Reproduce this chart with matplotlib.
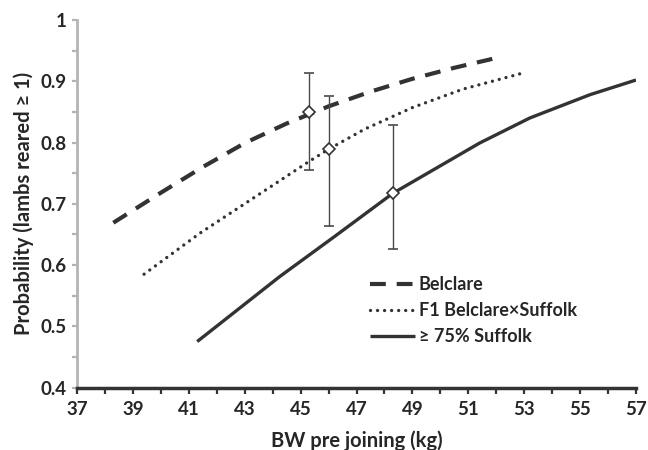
import matplotlib.pyplot as plt
from matplotlib.lines import Line2D
from matplotlib.ticker import MultipleLocator

plt.rcParams['font.family'] = ['Lato', 'DejaVu Sans']
plt.rcParams['font.weight'] = 'bold'

# curves
bw_belclare = [38.3, 40.0, 41.5, 43.0, 44.5, 46.0, 47.5, 49.0, 50.5, 52.0]
p_belclare = [0.669, 0.718, 0.760, 0.799, 0.831, 0.859, 0.883, 0.904, 0.922, 0.938]

bw_f1 = [39.4, 41.4, 43.2, 45.3, 46.0, 47.3, 49.0, 50.8, 53.0]
p_f1 = [0.585, 0.652, 0.706, 0.769, 0.789, 0.822, 0.857, 0.887, 0.914]

bw_suffolk = [41.3, 44.25, 46.2, 48.3, 51.4, 53.2, 55.35, 57.0]
p_suffolk = [0.475, 0.581, 0.646, 0.717, 0.799, 0.840, 0.878, 0.902]

# mean points with error bars
pt_x = [45.3, 46.0, 48.3]
pt_y = [0.850, 0.789, 0.717]
pt_lo = [0.755, 0.664, 0.626]
pt_hi = [0.913, 0.876, 0.829]

x_ticks = list(range(37, 58, 2))
y_ticks = [0.4, 0.5, 0.6, 0.7, 0.8, 0.9, 1.0]
y_tick_labels = ['0.4', '0.5', '0.6', '0.7', '0.8', '0.9', '1']

labels = ['Belclare', 'F1 Belclare\u00d7Suffolk', '\u2265 75% Suffolk']

dark = '#333333'
txt = '#262626'
grey = '#b4b4b4'

fig = plt.figure(figsize=(6.48, 4.5), dpi=100)
ax = fig.add_axes([77 / 648, 1 - 387.5 / 450, 559 / 648, 367.5 / 450])

dash_style = dict(color=dark, lw=3, dashes=(3.8, 2.6), dash_capstyle='butt')
dot_style = dict(color=dark, lw=2.4, linestyle=(0, (0.01, 2.1)), dash_capstyle='round')
solid_style = dict(color=dark, lw=2.4, solid_capstyle='butt')

ax.plot(bw_belclare, p_belclare, **dash_style)
ax.plot(bw_f1, p_f1, **dot_style)
ax.plot(bw_suffolk, p_suffolk, **solid_style)

yerr = [[y - lo for y, lo in zip(pt_y, pt_lo)], [hi - y for y, hi in zip(pt_y, pt_hi)]]
ax.errorbar(pt_x, pt_y, yerr=yerr, fmt='D', ms=6.5, mfc='white', mec=dark, mew=1.2,
            ecolor='#4a4a4a', elinewidth=1.0, capsize=3.5, capthick=1.0, zorder=5)

ax.set_xlim(37, 57)
ax.set_ylim(0.4, 1.0)
ax.set_xticks(x_ticks)
ax.xaxis.set_minor_locator(MultipleLocator(1))
ax.set_yticks(y_ticks, y_tick_labels)
ax.yaxis.set_minor_locator(MultipleLocator(0.05))

for s in ['top', 'right']:
    ax.spines[s].set_visible(False)
ax.spines['left'].set_color(grey)
ax.spines['left'].set_linewidth(2)
ax.spines['bottom'].set_color(dark)
ax.spines['bottom'].set_linewidth(2.5)
ax.spines['bottom'].set_zorder(3)

ax.tick_params(axis='x', which='both', length=4, width=1.6, color=dark, labelsize=13.5, pad=6)
ax.tick_params(axis='y', which='both', length=3.5, width=1.6, color=grey, labelsize=13.5, pad=4)
for t in ax.get_xticklabels() + ax.get_yticklabels():
    t.set_color(txt)
    t.set_fontweight('bold')

ax.set_xlabel('BW pre joining (kg)', fontsize=14.5, fontweight='bold', color=txt, labelpad=9)
ax.set_ylabel('Probability (lambs reared \u2265 1)', fontsize=14.5, fontweight='bold', color=txt, labelpad=5)

handles = [Line2D([], [], **dash_style), Line2D([], [], **dot_style), Line2D([], [], **solid_style)]
leg = ax.legend(handles, labels, loc='upper left', bbox_to_anchor=(0.524, 0.303), frameon=False,
                fontsize=13, handlelength=2.5, handletextpad=0.2, labelspacing=0.5, borderpad=0,
                borderaxespad=0)
for t in leg.get_texts():
    t.set_fontweight('bold')
    t.set_color(txt)

fig.savefig('out.png', dpi=100)
